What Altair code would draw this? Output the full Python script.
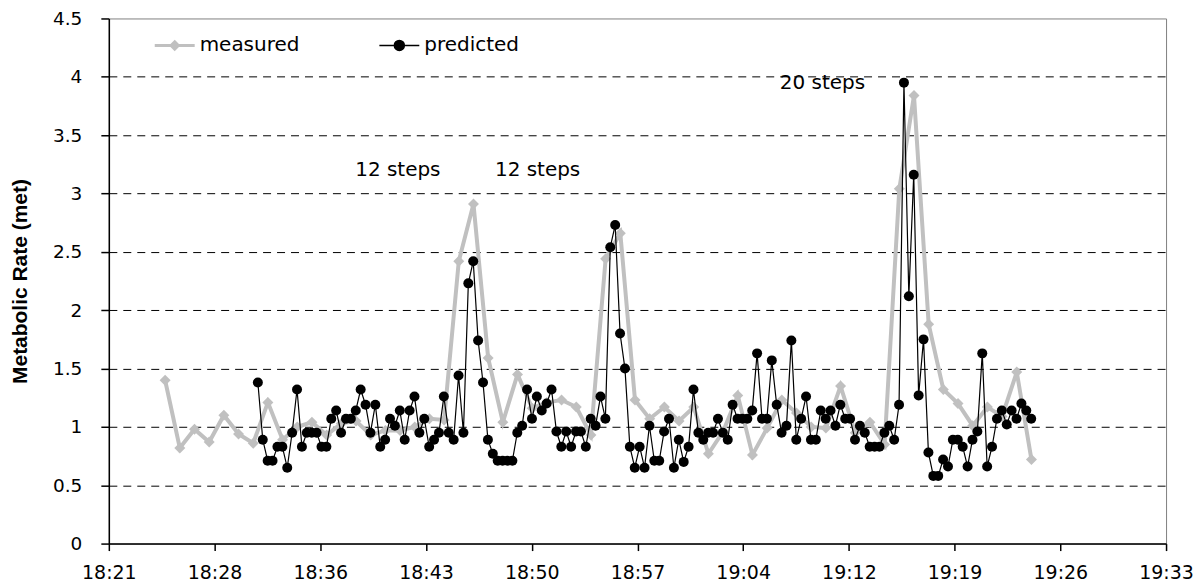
import altair as alt
import pandas as pd

FONT = "Liberation Sans"
WIDE_FONT = "DejaVu Sans"

# ---- data ----
series_names = ["measured", "predicted"]
series_colors = ["#c0c0c0", "#000000"]

measured_start = "18:25:26"
measured_step_s = 60
measured = [1.40, 0.82, 0.98, 0.87, 1.10, 0.94, 0.86, 1.21, 0.89, 1.00,
            1.04, 0.93, 1.03, 1.05, 0.93, 0.97, 0.97, 1.00, 1.07, 1.06,
            2.42, 2.91, 1.59, 1.04, 1.45, 1.16, 1.21, 1.23, 1.17, 0.93,
            2.44, 2.66, 1.23, 1.07, 1.17, 1.05, 1.17, 0.77, 0.96, 1.27,
            0.76, 0.99, 1.23, 1.12, 1.00, 0.99, 1.35, 0.95, 1.04, 0.85,
            3.04, 3.84, 1.88, 1.32, 1.20, 1.01, 1.17, 1.09, 1.47, 0.72]

predicted_start = "18:31:45"
predicted_step_s = 20
predicted = [1.38, 0.89, 0.71, 0.71, 0.83, 0.83, 0.65, 0.95, 1.32, 0.83,
             0.95, 0.95, 0.95, 0.83, 0.83, 1.07, 1.14, 0.95, 1.07, 1.07,
             1.14, 1.32, 1.19, 0.95, 1.19, 0.83, 0.89, 1.07, 1.01, 1.14,
             0.89, 1.14, 1.26, 0.95, 1.07, 0.83, 0.89, 0.95, 1.26, 0.95,
             0.89, 1.44, 0.95, 2.23, 2.42, 1.74, 1.38, 0.89, 0.77, 0.71,
             0.71, 0.71, 0.71, 0.95, 1.01, 1.32, 1.07, 1.26, 1.14, 1.20,
             1.32, 0.96, 0.83, 0.96, 0.83, 0.96, 0.96, 0.83, 1.07, 1.01,
             1.26, 1.07, 2.54, 2.73, 1.80, 1.50, 0.83, 0.65, 0.83, 0.65,
             1.01, 0.71, 0.71, 0.96, 1.07, 0.65, 0.89, 0.70, 0.83, 1.32,
             0.95, 0.89, 0.95, 0.95, 1.07, 0.95, 0.89, 1.19, 1.07, 1.07,
             1.07, 1.14, 1.63, 1.07, 1.07, 1.57, 1.19, 0.95, 1.01, 1.74,
             0.89, 1.07, 1.26, 0.89, 0.89, 1.14, 1.07, 1.14, 1.01, 1.19,
             1.07, 1.07, 0.89, 1.01, 0.95, 0.83, 0.83, 0.83, 0.95, 1.01,
             0.89, 1.19, 3.95, 2.12, 3.16, 1.27, 1.75, 0.78, 0.58, 0.58,
             0.72, 0.66, 0.89, 0.89, 0.83, 0.66, 0.89, 0.96, 1.63, 0.66,
             0.83, 1.07, 1.14, 1.02, 1.14, 1.07, 1.20, 1.14, 1.07]

x_tick_labels = ["18:21", "18:28", "18:36", "18:43", "18:50", "18:57",
                 "19:04", "19:12", "19:19", "19:26", "19:33"]
x_first_tick_min = 1101.6     # 18:21:36 in minutes after midnight
x_tick_step_min = 7.2         # 0.005 day
y_tick_values = [0, 0.5, 1, 1.5, 2, 2.5, 3, 3.5, 4, 4.5]

annotation_labels = ["12 steps", "12 steps", "20 steps"]
annotation_times = ["18:41:17", "18:50:48", "19:10:12"]
annotation_values = [3.2, 3.2, 3.95]


def to_min(s):
    h, m, sec = (int(p) for p in s.split(":"))
    return h * 60 + m + sec / 60.0


x_tick_values = [round(x_first_tick_min + i * x_tick_step_min, 1) for i in range(len(x_tick_labels))]

dfm = pd.DataFrame({
    "t": [to_min(measured_start) + i * measured_step_s / 60.0 for i in range(len(measured))],
    "v": measured,
    "series": series_names[0],
})
dfp = pd.DataFrame({
    "t": [to_min(predicted_start) + i * predicted_step_s / 60.0 for i in range(len(predicted))],
    "v": predicted,
    "series": series_names[1],
})
dfa = pd.DataFrame({
    "t": [to_min(s) for s in annotation_times],
    "v": annotation_values,
    "label": annotation_labels,
})

label_expr = ("[" + ",".join("'%s'" % l for l in x_tick_labels) + "]"
              + "[round((datum.value - %s) / %s)]" % (x_first_tick_min, x_tick_step_min))

xscale = alt.Scale(domain=[x_tick_values[0], x_tick_values[-1]], nice=False, zero=False)
yscale = alt.Scale(domain=[0, 4.5], nice=False)

xaxis = alt.Axis(values=x_tick_values, labelExpr=label_expr, grid=False, title=None,
                 tickSize=7, tickWidth=1.5, tickColor="black",
                 domainColor="black", domainWidth=1.5,
                 labelFont=WIDE_FONT, labelFontSize=19, labelColor="black",
                 labelPadding=13, labelFlush=False, labelOverlap=False)
yaxis = alt.Axis(values=y_tick_values, format="~g", title="Metabolic Rate (met)",
                 titleFont=FONT, titleFontSize=21, titleFontWeight="bold", titleColor="black",
                 titleAngle=270, titleX=-88, titleY=263, titleAlign="center",
                 titleBaseline="middle",
                 tickSize=8, tickWidth=1.5, tickColor="black",
                 domainColor="black", domainWidth=1.5,
                 labelFont=WIDE_FONT, labelFontSize=18.5, labelColor="black", labelPadding=19,
                 grid=True, gridColor="black", gridWidth=1, gridDash=[8, 6],
                 gridOpacity={"condition": {"test": "datum.value <= 0 || datum.value >= 4.5",
                                            "value": 0}, "value": 1})

is_measured = "datum.value === '%s'" % series_names[0]
shape_measured = "M-1,0L1,0M0,-0.18L0.18,0L0,0.18L-0.18,0Z"
shape_predicted = "M-1,0L1,0M0.25,0A0.25,0.25,0,1,1,-0.25,0A0.25,0.25,0,1,1,0.25,0Z"
legend = alt.Legend(
    title=None, orient="none", legendX=48, legendY=17, direction="horizontal",
    columns=2, columnPadding=77, symbolSize=1600, padding=0, rowPadding=0,
    symbolOffset=8,
    labelFont=WIDE_FONT, labelFontSize=20, labelColor="black", labelOffset=15,
    symbolType={"expr": "%s ? '%s' : '%s'" % (is_measured, shape_measured, shape_predicted)},
    symbolStrokeColor={"expr": "%s ? '%s' : '%s'" % (is_measured, series_colors[0], series_colors[1])},
    symbolFillColor={"expr": "%s ? '%s' : '%s'" % (is_measured, series_colors[0], series_colors[1])},
    symbolStrokeWidth={"expr": "%s ? 3 : 1.5" % is_measured},
    symbolOpacity=1,
)

color = alt.Color("series:N", scale=alt.Scale(domain=series_names, range=series_colors),
                  legend=legend)
x = alt.X("t:Q", scale=xscale, axis=xaxis)
y = alt.Y("v:Q", scale=yscale, axis=yaxis)

m_line = alt.Chart(dfm).mark_line(strokeWidth=4).encode(x=x, y=y, color=color)
m_pts = alt.Chart(dfm).mark_point(shape="diamond", filled=True, size=121, opacity=1).encode(
    x=x, y=y, color=color)
p_line = alt.Chart(dfp).mark_line(strokeWidth=1.2).encode(x=x, y=y, color=color)
p_pts = alt.Chart(dfp).mark_point(shape="circle", filled=True, size=100, opacity=1).encode(
    x=x, y=y, color=color)
notes = alt.Chart(dfa).mark_text(font=WIDE_FONT, fontSize=20, color="black",
                                 align="center", baseline="middle").encode(
    x=alt.X("t:Q", scale=xscale), y=alt.Y("v:Q", scale=yscale), text="label:N")

chart = alt.layer(m_line, m_pts, p_line, p_pts, notes).properties(
    width=1059, height=526,
    autosize=alt.AutoSizeParams(type="none"),
    padding={"left": 101, "top": 10, "right": 30, "bottom": 40},
    background="white",
).configure_view(stroke="#808080", strokeWidth=1)

chart.save("out.html", embed_options={"renderer": "svg", "actions": False})
